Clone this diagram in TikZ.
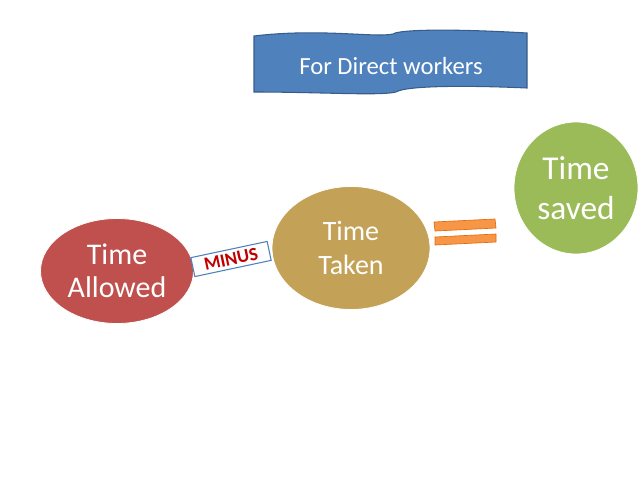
\documentclass[tikz,border=0pt]{standalone}
\usepackage{fontspec}
\setmainfont{Carlito}
\usetikzlibrary{shapes.geometric}
\begin{document}
\begin{tikzpicture}[x=0.75pt,y=-0.75pt,
  bubble/.style={ellipse,inner sep=0pt,text=white,align=center,draw=white,line width=0.6pt},
  bar/.style={fill=orange1,draw=orange2,line width=0.5pt}]
\definecolor{redA}{HTML}{C0504D}
\definecolor{tanA}{HTML}{C3A257}
\definecolor{greenA}{HTML}{9BBB59}
\definecolor{blueA}{HTML}{4F81BD}
\definecolor{blueB}{HTML}{385D8A}
\definecolor{orange1}{HTML}{F79646}
\definecolor{orange2}{HTML}{E46C0A}
\definecolor{minusred}{HTML}{C00000}
\useasboundingbox (0,0) rectangle (638,479);
% banner
\draw[fill=blueA,draw=blueB,line width=0.8pt]
  (254,36) .. controls (320,28) and (375,38) .. (393,34)
  .. controls (400,29) and (460,29) .. (527,33)
  -- (527,88)
  .. controls (460,85) and (405,86) .. (396,92)
  .. controls (380,96) and (320,92) .. (254,92) -- cycle;
\node[text=white,font=\fontsize{18.5}{22}\selectfont] (banner) at (391,66) {For Direct workers};
% ellipses
\node[bubble,fill=redA,minimum width=114.75pt,minimum height=78.75pt,font=\fontsize{22.5}{25}\selectfont] (allowed) at (117,271) {Time\\Allowed};
\node[bubble,fill=tanA,minimum width=118.5pt,minimum height=92.25pt,font=\fontsize{21}{25.5}\selectfont] (taken) at (351,248) {Time\\Taken};
\node[bubble,fill=greenA,minimum width=93pt,minimum height=99pt,font=\fontsize{25}{30.5}\selectfont] (saved) at (576,188) {Time\\saved};
% minus label
\node[draw=blueA,fill=white,line width=0.8pt,rotate=12,minimum width=58.5pt,minimum height=14.5pt,inner sep=1pt,
  text=minusred,font=\fontsize{14}{16}\selectfont\bfseries] (minus) at (231,259) {MINUS};
% equals
\draw[bar] (434,222) -- (495,219) -- (496,228) -- (435,231) -- cycle;
\draw[bar] (435,237) -- (496,234) -- (496,242) -- (435,245) -- cycle;
\end{tikzpicture}
\end{document}
